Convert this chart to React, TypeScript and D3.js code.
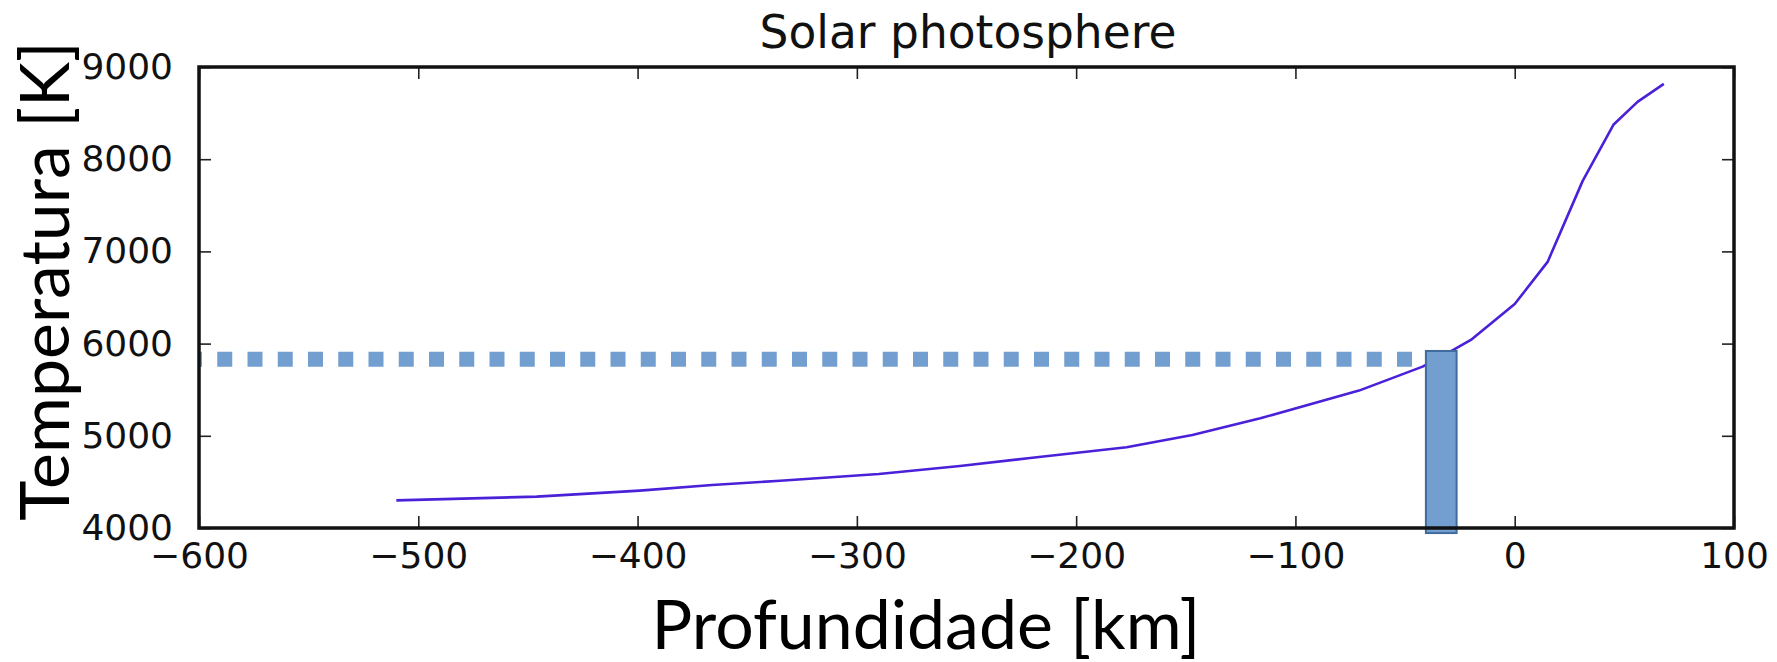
import { useEffect, useRef } from "react";
import * as d3 from "d3";

// depth [km] and temperature [K]
const depth = [
  -510, -446, -399, -366, -335, -290, -253, -222, -177, -147, -116, -71, -42,
  -28, -20, 0, 15, 31, 45, 56, 68,
];
const temperature = [
  4300, 4340, 4405, 4466, 4513, 4586, 4673, 4756, 4876, 5009, 5190, 5490, 5750,
  5931, 6040, 6430, 6886, 7765, 8373, 8622, 8817,
];
const xTicks = [-600, -500, -400, -300, -200, -100, 0, 100];
const yTicks = [4000, 5000, 6000, 7000, 8000, 9000];
// highlighted layer (bar) and reference level (dotted line)
const markerDepth = [-40.5, -26.5];
const markerTemp = [3945, 5920];
const refTemp = 5830;

const W = 1777;
const H = 662;
const M = { left: 199, right: 43, top: 67, bottom: 134 };

const App = () => {
  const ref = useRef<SVGSVGElement>(null);

  useEffect(() => {
    const root = d3.select(ref.current);
    root.selectAll("*").remove();
    const width = W - M.left - M.right;
    const height = H - M.top - M.bottom;

    const x = d3.scaleLinear().domain([-600, 100]).range([0, width]);
    const y = d3.scaleLinear().domain([4000, 9000]).range([height, 0]);

    const svg = root
      .append("g")
      .attr("transform", `translate(${M.left},${M.top})`);

    const data = depth.map((d, i) => ({ d, t: temperature[i] }));

    svg
      .append("path")
      .datum(data)
      .attr("fill", "none")
      .attr("stroke", "#4a20d8")
      .attr("stroke-width", 2.6)
      .attr("stroke-linejoin", "round")
      .attr(
        "d",
        d3
          .line<{ d: number; t: number }>()
          .x((p) => x(p.d))
          .y((p) => y(p.t))
      );

    // dotted reference line
    svg
      .append("line")
      .attr("x1", x(-600))
      .attr("x2", x(markerDepth[0]))
      .attr("y1", y(refTemp))
      .attr("y2", y(refTemp))
      .attr("stroke", "#729fcf")
      .attr("stroke-width", 15)
      .attr("stroke-dasharray", "15 15.25")
      .attr("stroke-dashoffset", 12);

    // highlighted bar
    svg
      .append("rect")
      .attr("x", x(markerDepth[0]))
      .attr("width", x(markerDepth[1]) - x(markerDepth[0]))
      .attr("y", y(markerTemp[1]))
      .attr("height", y(markerTemp[0]) - y(markerTemp[1]))
      .attr("fill", "#729fcf")
      .attr("stroke", "#3f6c9c")
      .attr("stroke-width", 2);

    const tickFont = "'DejaVu Sans', sans-serif";
    const fmt = d3.format("d");
    const axB = svg
      .append("g")
      .attr("transform", `translate(0,${height})`)
      .call(
        d3.axisBottom(x).tickValues(xTicks).tickSize(-12).tickFormat((v) => fmt(v as number).replace("-", "\u2212"))
      );
    const axT = svg
      .append("g")
      .call(d3.axisTop(x).tickValues(xTicks).tickSize(-12).tickFormat(() => ""));
    const axL = svg
      .append("g")
      .call(
        d3.axisLeft(y).tickValues(yTicks).tickSize(-12).tickPadding(26).tickFormat((v) => fmt(v as number))
      );
    const axR = svg
      .append("g")
      .attr("transform", `translate(${width},0)`)
      .call(d3.axisRight(y).tickValues(yTicks).tickSize(-12).tickFormat(() => ""));

    [axB, axT, axL, axR].forEach((a) => {
      a.select(".domain").remove();
      a.selectAll(".tick line").attr("stroke", "#222").attr("stroke-width", 1.6);
      a.selectAll("text")
        .attr("font-family", tickFont)
        .attr("font-size", 36)
        .attr("fill", "#111");
    });
    axB.selectAll("text").attr("dy", "0.71em").attr("y", 14);

    svg
      .append("rect")
      .attr("width", width)
      .attr("height", height)
      .attr("fill", "none")
      .attr("stroke", "#111")
      .attr("stroke-width", 3.5);

    root
      .append("text")
      .attr("x", 968)
      .attr("y", 48)
      .attr("text-anchor", "middle")
      .attr("font-family", tickFont)
      .attr("font-size", 45.5)
      .attr("fill", "#111")
      .text("Solar photosphere");

    root
      .append("text")
      .attr("x", 926)
      .attr("y", 649)
      .attr("text-anchor", "middle")
      .attr("font-family", "Lato, sans-serif")
      .attr("font-size", 68)
      .attr("fill", "#000")
      .text("Profundidade [km]");

    root
      .append("text")
      .attr("transform", `translate(69,281) rotate(-90)`)
      .attr("text-anchor", "middle")
      .attr("font-family", "Lato, sans-serif")
      .attr("font-size", 68)
      .attr("fill", "#000")
      .text("Temperatura [K]");
  }, []);

  return (
    <svg
      ref={ref}
      width={W}
      height={H}
      style={{ position: "absolute", left: 0, top: 0, background: "#fff" }}
    />
  );
};

export default App;
